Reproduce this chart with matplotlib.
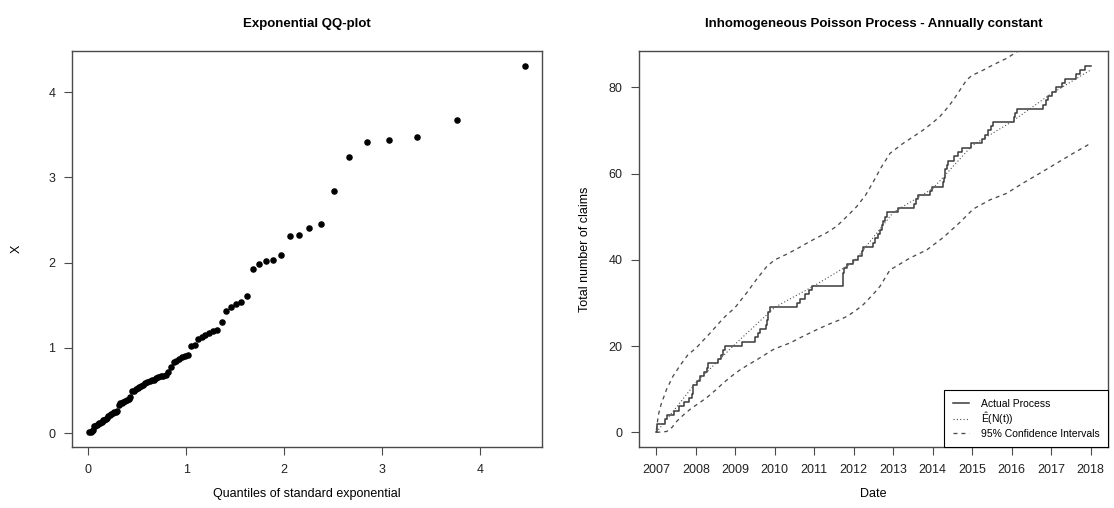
import numpy as np
import matplotlib
matplotlib.use("Agg")
import matplotlib.pyplot as plt

plt.rcParams['font.family'] = ['Liberation Sans', 'DejaVu Sans']
plt.rcParams['mathtext.fontset'] = 'custom'
plt.rcParams['mathtext.rm'] = 'Liberation Sans'

# ---- left panel: sorted sample (85 values) ----
n_obs = 85
x_sorted = [
    0.01, 0.02, 0.03, 0.04, 0.08, 0.09, 0.10, 0.11, 0.12, 0.125,
    0.13, 0.15, 0.16, 0.17, 0.18, 0.20, 0.21, 0.22, 0.24, 0.25,
    0.25, 0.26, 0.33, 0.35, 0.36, 0.37, 0.38, 0.39, 0.40, 0.42,
    0.49, 0.50, 0.52, 0.53, 0.54, 0.55, 0.56, 0.59, 0.60, 0.61,
    0.62, 0.63, 0.65, 0.66, 0.67, 0.67, 0.68, 0.72, 0.78, 0.83,
    0.85, 0.87, 0.89, 0.91, 0.92, 1.02, 1.04, 1.11, 1.13, 1.15,
    1.17, 1.20, 1.21, 1.30, 1.435, 1.482, 1.513, 1.544, 1.606, 1.926,
    1.99, 2.02, 2.03, 2.09, 2.31, 2.33, 2.41, 2.45, 2.84, 3.235,
    3.415, 3.44, 3.477, 3.67, 4.31,
]

# ---- right panel: claim times, expected count, confidence bands ----
claim_times = [
    2007.01, 2007.02, 2007.22, 2007.26, 2007.45, 2007.58, 2007.70, 2007.82,
    2007.90, 2007.92, 2007.94, 2008.02, 2008.10, 2008.20, 2008.28, 2008.31,
    2008.55, 2008.65, 2008.70, 2008.74, 2009.18, 2009.50, 2009.58, 2009.62,
    2009.78, 2009.80, 2009.82, 2009.84, 2009.88, 2010.55, 2010.64, 2010.76,
    2010.87, 2010.95, 2011.72, 2011.73, 2011.74, 2011.76, 2011.84, 2011.98,
    2012.10, 2012.20, 2012.24, 2012.49, 2012.53, 2012.62, 2012.66, 2012.72,
    2012.75, 2012.80, 2012.85, 2013.13, 2013.52, 2013.58, 2013.63, 2013.93,
    2013.97, 2014.25, 2014.28, 2014.30, 2014.32, 2014.36, 2014.39, 2014.55,
    2014.65, 2014.73, 2014.96, 2015.24, 2015.32, 2015.40, 2015.48, 2015.53,
    2016.06, 2016.09, 2016.13, 2016.80, 2016.86, 2016.93, 2017.02, 2017.12,
    2017.27, 2017.34, 2017.64, 2017.72, 2017.86,
]

years = [2007, 2008, 2009, 2010, 2011, 2012, 2013, 2014, 2015, 2016, 2017, 2018]
expected = [0, 11.5, 20.5, 29, 34, 39.5, 51, 56.5, 66.5, 72, 78.5, 84]

upper_t = [2007.00, 2007.05, 2007.12, 2007.26, 2007.42, 2007.60, 2007.80, 2008.00,
           2008.36, 2008.70, 2009.00, 2009.30, 2009.54, 2009.80, 2010.00, 2010.30,
           2010.55, 2010.80, 2011.00, 2011.30, 2011.57, 2011.82, 2012.07, 2012.30,
           2012.49, 2012.70, 2012.92, 2013.25, 2013.50, 2013.76, 2014.00, 2014.18,
           2014.35, 2014.52, 2014.70, 2014.86, 2015.00, 2015.20, 2015.53, 2015.87,
           2016.13, 2016.50, 2017.00, 2017.50, 2018.00]
upper_v = [0.5, 4, 6.5, 10, 13, 15.5, 18, 19.5,
           23, 26.5, 29, 32.5, 35.5, 38.5, 40, 41.3,
           42.5, 43.8, 44.8, 46.2, 47.8, 50, 52.3, 55,
           58, 61.5, 64.7, 67, 68.5, 70.1, 71.8, 73.2,
           75, 77, 79.5, 81.7, 82.8, 83.6, 85.2, 86.7,
           88.2, 91, 96, 100, 104]

lower_t = [2007.00, 2007.26, 2007.40, 2007.51, 2007.68, 2007.85, 2008.05, 2008.27,
           2008.50, 2008.69, 2008.90, 2009.12, 2009.35, 2009.54, 2009.75, 2009.96,
           2010.20, 2010.38, 2010.70, 2011.06, 2011.35, 2011.65, 2011.85, 2012.07,
           2012.24, 2012.49, 2012.66, 2012.92, 2013.00, 2013.42, 2013.85, 2014.27,
           2014.69, 2015.03, 2015.45, 2015.87, 2016.29, 2016.72, 2017.14, 2017.56,
           2018.00]
lower_v = [0, 0.2, 1.2, 2.5, 4, 5.3, 6.6, 8,
           9.8, 11.4, 13, 14.5, 15.8, 16.8, 18, 19.2,
           20.1, 20.7, 22.2, 23.8, 25, 26.1, 27, 28.4,
           29.6, 32, 33.8, 37.7, 38.1, 40.4, 42.3, 45.2,
           48.7, 51.8, 53.9, 55.4, 57.8, 60.1, 62.4, 64.7,
           67]

line_col = '#3a3a3a'
ci_col = '#4d4d4d'
box_col = '#4a4a4a'


def style_axes(ax):
    for s in ax.spines.values():
        s.set_color(box_col)
        s.set_linewidth(1.0)
    ax.tick_params(direction='out', length=6, width=0.8, color=box_col,
                   labelsize=9, pad=6, labelcolor='#222222')


fig = plt.figure(figsize=(11.14, 5.08), dpi=100)
ax1 = fig.add_axes([0.0646, 0.12, 0.4219, 0.7795])
ax2 = fig.add_axes([0.5736, 0.12, 0.4210, 0.7795])

# QQ plot: theoretical quantiles of the standard exponential
probs = np.arange(1, n_obs + 1) / (n_obs + 1)
theo_q = -np.log(1 - probs)
ax1.plot(theo_q, x_sorted, 'o', color='black', ms=3.7, mec='black')
ax1.margins(0.04)
ax1.set_xticks([0, 1, 2, 3, 4])
ax1.set_yticks([0, 1, 2, 3, 4])
ax1.set_title('Exponential QQ-plot', fontsize=9.5, fontweight='bold', pad=17)
ax1.set_xlabel('Quantiles of standard exponential', fontsize=9)
ax1.set_ylabel('X', fontsize=9)
ax1.xaxis.set_label_coords(0.5, -0.103)
ax1.yaxis.set_label_coords(-0.104, 0.5)
style_axes(ax1)

# Inhomogeneous Poisson process
step_t = [2007] + claim_times + [2018]
step_n = [0] + list(range(1, len(claim_times) + 1)) + [len(claim_times)]
ax2.step(step_t, step_n, where='post', color=line_col, lw=1.1,
         label='Actual Process')
ax2.plot(years, expected, color='#505050', lw=0.8, ls=(0, (1, 2)),
         label=r'$\hat{\mathrm{E}}(\mathrm{N}(\mathrm{t}))$')
ax2.plot(upper_t, upper_v, color=ci_col, lw=0.95, ls=(0, (3, 3)),
         label='95% Confidence Intervals')
ax2.plot(lower_t, lower_v, color=ci_col, lw=0.95, ls=(0, (3, 3)))
ax2.set_xlim(2007 - 0.44, 2018 + 0.44)
ax2.set_ylim(0 - 0.04 * 85, 85 + 0.04 * 85)
ax2.set_xticks(years)
ax2.set_xticklabels([str(y) for y in years])
ax2.set_yticks([0, 20, 40, 60, 80])
ax2.set_title('Inhomogeneous Poisson Process - Annually constant',
              fontsize=9.5, fontweight='bold', pad=17)
ax2.set_xlabel('Date', fontsize=9)
ax2.set_ylabel('Total number of claims', fontsize=9)
ax2.xaxis.set_label_coords(0.5, -0.103)
ax2.yaxis.set_label_coords(-0.102, 0.5)
style_axes(ax2)
leg = ax2.legend(loc='lower right', fontsize=7.5, fancybox=False,
                 edgecolor='black', framealpha=1, borderaxespad=0,
                 handlelength=1.6, handletextpad=1.1, borderpad=0.8,
                 labelspacing=0.15)
leg.get_frame().set_linewidth(0.8)

fig.savefig('out.png', dpi=100)
